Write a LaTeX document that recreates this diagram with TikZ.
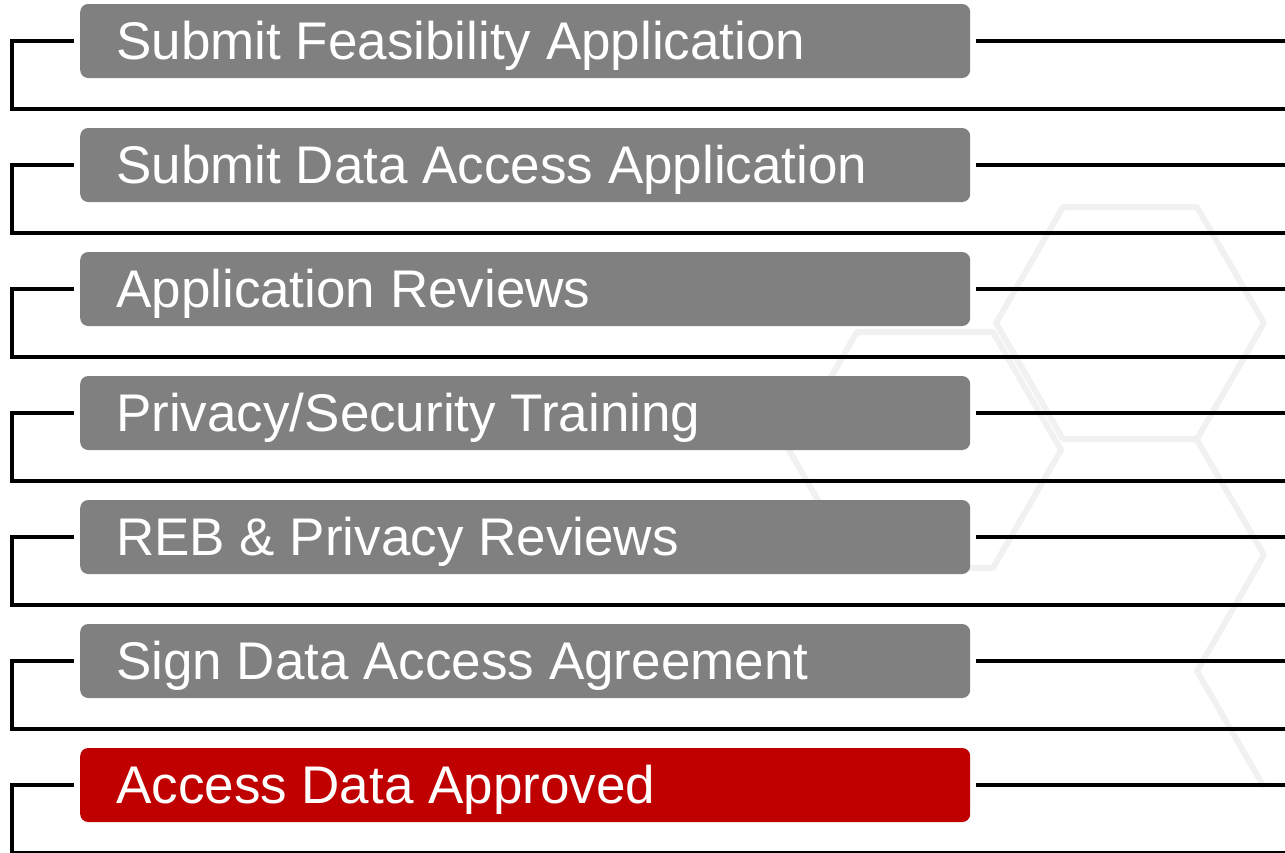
\documentclass[tikz,border=0pt]{standalone}
\usepackage{fontspec}
\setmainfont{Liberation Sans}
\newcommand{\stepfont}{\fontsize{53}{60}\selectfont}
\definecolor{boxgray}{HTML}{808080}
\definecolor{boxred}{HTML}{C00000}
\definecolor{hexgray}{HTML}{F1F1F1}
\begin{document}
\begin{tikzpicture}[x=1pt,y=-1pt,
  stepbox/.style={fill=boxgray, rounded corners=8pt, minimum height=74pt,
    text width=818pt, inner xsep=36pt, inner ysep=0pt, align=flush left, text=white,
    font=\stepfont, text height=38pt, text depth=2pt, anchor=west},
  redbox/.style={stepbox, fill=boxred},
  conn/.style={line width=4pt, black},
  hexline/.style={line width=6pt, hexgray, line join=round}]
\useasboundingbox (0,0) rectangle (1285,852);
% faint background hexagons
\draw[hexline] (1264,323) -- (1197,207) -- (1063,207) -- (996,323) -- (1063,439) -- (1197,439) -- cycle;
\draw[hexline] (1061,450) -- (993,332) -- (857,332) -- (789,450) -- (857,568) -- (993,568) -- cycle;
\draw[hexline] (1197,440) -- (1264,555) -- (1197,671) -- (1264,787);
% steps
\foreach \i/\t/\s in {0/Submit Feasibility Application/stepbox,
                      1/Submit Data Access Application/stepbox,
                      2/Application Reviews/stepbox,
                      3/Privacy\slash Security Training/stepbox,
                      4/REB \& Privacy Reviews/stepbox,
                      5/Sign Data Access Agreement/stepbox,
                      6/Access Data Approved/redbox}{
  \pgfmathsetmacro{\y}{41+124*\i}
  \node[\s] (b\i) at (80,\y) {\t};
  \draw[conn] ([xshift=-6pt]b\i.west) -| (12,\y+68) -- (1285,\y+68);
  \draw[conn] ([xshift=6pt]b\i.east) -- (1285,\y);
}
\end{tikzpicture}
\end{document}
